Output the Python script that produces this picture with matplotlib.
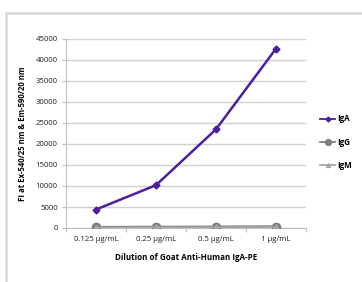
import matplotlib
matplotlib.use("Agg")
import matplotlib.pyplot as plt
from matplotlib.lines import Line2D

categories = ["0.125 µg/mL", "0.25 µg/mL", "0.5 µg/mL", "1 µg/mL"]
iga = [4400, 10200, 23500, 42700]
igg = [150, 180, 220, 280]
igm = [100, 120, 150, 200]
yticks = [0, 5000, 10000, 15000, 20000, 25000, 30000, 35000, 40000, 45000]

plt.rcParams['font.family'] = ['Open Sans', 'DejaVu Sans']

W, H = 362, 282
fig = plt.figure(figsize=(W / 100, H / 100), dpi=100)
fig.patch.set_facecolor('white')

# outer frame (top and left edges visible)
fig.add_artist(Line2D([6 / W, 1.0], [1 - 13 / H, 1 - 13 / H], transform=fig.transFigure,
                      color='#d9d9d9', lw=1.8))
fig.add_artist(Line2D([6 / W, 6 / W], [0.0, 1 - 13 / H], transform=fig.transFigure,
                      color='#d9d9d9', lw=1.8))

ax = fig.add_axes([66 / W, 1 - 228 / H, (306 - 66) / W, (228 - 39) / H])
x = list(range(len(categories)))

ax.plot(x, igg, color='#7f7f7f', lw=2.2, marker='o', ms=6, label='IgG', zorder=3)
ax.plot(x, igm, color='#a6a6a6', lw=1.5, marker='^', ms=4, label='IgM', zorder=3)
ax.plot(x, iga, color='#4a1e9e', lw=1.8, marker='D', ms=3.5, label='IgA', zorder=4)

ax.set_xlim(-0.5, len(categories) - 0.5)
ax.set_ylim(0, 45000)
ax.set_yticks(yticks)
ax.set_yticklabels([str(v) for v in yticks])
ax.set_xticks(x)
ax.set_xticklabels(categories)
ax.set_xticks([i - 0.5 for i in range(len(categories) + 1)], minor=True)
ax.tick_params(axis='x', which='major', length=0, labelsize=5.6, pad=6, colors='#222222')
ax.tick_params(axis='x', which='minor', length=3, color='#bfbfbf', width=0.8)
ax.tick_params(axis='y', length=3, color='#bfbfbf', width=0.8, labelsize=5.6, pad=3, colors='#222222')
ax.tick_params(axis='y', colors='#bfbfbf', labelcolor='#222222')

ax.grid(axis='y', color='#d0d0d0', lw=1.0)
ax.set_axisbelow(True)
for s in ['top', 'right']:
    ax.spines[s].set_visible(False)
for s in ['left', 'bottom']:
    ax.spines[s].set_color('#bfbfbf')
    ax.spines[s].set_linewidth(0.8)

ax.set_ylabel('FI at Ex-540/25 nm & Em-590/20 nm', fontsize=5.6, fontweight='bold', labelpad=6)
ax.set_xlabel('Dilution of Goat Anti-Human IgA-PE', fontsize=5.8, fontweight='bold', labelpad=7)

handles, labels = ax.get_legend_handles_labels()
order = [2, 0, 1]
leg = ax.legend([handles[i] for i in order], [labels[i] for i in order],
                loc='center left', bbox_to_anchor=(1.03, 0.455), frameon=False,
                prop={'size': 5.8, 'weight': 'bold'}, handlelength=1.8, handletextpad=0.3,
                labelspacing=1.75, markerscale=0.7)
for line in leg.get_lines():
    line.set_linewidth(1.3)

fig.savefig('out.png', dpi=100)
